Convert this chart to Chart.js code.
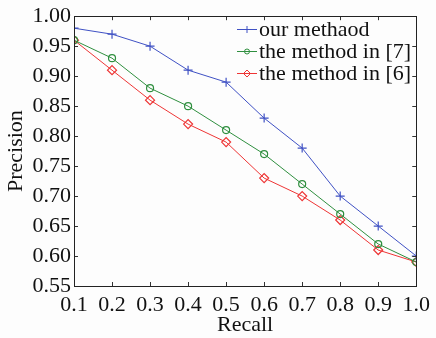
<!DOCTYPE html>
<html>
<head>
<meta charset="utf-8">
<script src="https://cdn.jsdelivr.net/npm/chart.js@4/dist/chart.umd.min.js"></script>
<style>
  html, body { margin: 0; padding: 0; background: #fdfdfd; }
  #wrap { width: 436px; height: 338px; }
</style>
</head>
<body>
<div id="wrap"><canvas id="c" width="436" height="338"></canvas></div>
<script>
// recall values on the x axis
const recall = [0.1, 0.2, 0.3, 0.4, 0.5, 0.6, 0.7, 0.8, 0.9, 1.0];
// precision for each method
const ourMethod = [0.98, 0.97, 0.95, 0.91, 0.89, 0.83, 0.78, 0.70, 0.65, 0.60];
const method7   = [0.96, 0.93, 0.88, 0.85, 0.81, 0.77, 0.72, 0.67, 0.62, 0.59];
const method6   = [0.96, 0.91, 0.86, 0.82, 0.79, 0.73, 0.70, 0.66, 0.61, 0.59];
const seriesNames = ['our methaod', 'the method in [7]', 'the method in [6]'];
const yTicks = [0.55, 0.60, 0.65, 0.70, 0.75, 0.80, 0.85, 0.90, 0.95, 1.00];

const FONT = 'Liberation Serif';
const ink = '#111';

const toPts = arr => arr.map((v, i) => ({ x: recall[i], y: v }));

// inward tick marks on all four sides + frame
const frameTicks = {
  id: 'frameTicks',
  afterDatasetsDraw(chart) {
    const { ctx, chartArea: a, scales: { x, y } } = chart;
    const len = 4;
    ctx.save();
    ctx.strokeStyle = '#333';
    ctx.lineWidth = 1;
    ctx.beginPath();
    recall.forEach(v => {
      const px = Math.round(x.getPixelForValue(v)) + 0.5;
      ctx.moveTo(px, a.bottom); ctx.lineTo(px, a.bottom - len);
      ctx.moveTo(px, a.top); ctx.lineTo(px, a.top + len);
    });
    yTicks.forEach(v => {
      const py = Math.round(y.getPixelForValue(v)) + 0.5;
      ctx.moveTo(a.left, py); ctx.lineTo(a.left + len, py);
      ctx.moveTo(a.right, py); ctx.lineTo(a.right - len, py);
    });
    ctx.stroke();
    ctx.strokeStyle = '#222';
    ctx.strokeRect(Math.round(a.left) + 0.5, Math.round(a.top) + 0.5,
      Math.round(a.right - a.left), Math.round(a.bottom - a.top));
    ctx.restore();
  }
};

// legend inside the plot, line + marker sample
const insideLegend = {
  id: 'insideLegend',
  afterDraw(chart) {
    const { ctx } = chart;
    const x0 = 237, x1 = 257, rowY = [29, 51, 73];
    ctx.save();
    ctx.font = `22px "${FONT}"`;
    ctx.textBaseline = 'middle';
    chart.data.datasets.forEach((ds, i) => {
      const yy = rowY[i];
      ctx.strokeStyle = ds.borderColor;
      ctx.fillStyle = 'rgba(0,0,0,0)';
      ctx.lineWidth = 1;
      ctx.beginPath(); ctx.moveTo(x0, yy + 0.5); ctx.lineTo(x1, yy + 0.5); ctx.stroke();
      Chart.helpers.drawPoint(ctx, {
        pointStyle: ds.pointStyle, radius: ds.pointRadius - 1, borderWidth: 1
      }, (x0 + x1) / 2, yy + 0.5);
      ctx.fillStyle = ink;
      ctx.fillText(ds.label, x1 + 2, yy + 1);
    });
    ctx.restore();
  }
};

function mkSet(label, data, color, style, r) {
  return {
    label, data: toPts(data),
    borderColor: color, backgroundColor: 'rgba(0,0,0,0)',
    pointBorderColor: color, pointBackgroundColor: 'rgba(0,0,0,0)',
    borderWidth: 1, pointBorderWidth: 1.2,
    pointStyle: style, pointRadius: r, tension: 0
  };
}

new Chart(document.getElementById('c'), {
  type: 'line',
  data: {
    datasets: [
      mkSet(seriesNames[0], ourMethod, '#3f51c4', 'cross', 4.5),
      mkSet(seriesNames[1], method7, '#2f8f3f', 'circle', 3.5),
      mkSet(seriesNames[2], method6, '#ee3535', 'rectRot', 4.5),
    ]
  },
  options: {
    responsive: false,
    animation: false,
    layout: { padding: { top: 13, right: 14, left: 0, bottom: 0 } },
    plugins: { legend: { display: false }, tooltip: { enabled: false } },
    scales: {
      x: {
        type: 'linear', min: 0.1, max: 1.0,
        afterBuildTicks: s => { s.ticks = recall.map(v => ({ value: v })); },
        afterFit: s => { s.height = 52; },
        grid: { display: false, drawTicks: false },
        border: { display: false },
        ticks: {
          color: ink, font: { family: FONT, size: 22 }, padding: 6, maxRotation: 0,
          callback: v => v.toFixed(1)
        },
        title: {
          display: true, text: 'Recall', color: ink,
          font: { family: FONT, size: 22 }, padding: { top: 0, bottom: 0 }
        }
      },
      y: {
        type: 'linear', min: 0.55, max: 1.0,
        afterBuildTicks: s => { s.ticks = yTicks.map(v => ({ value: v })); },
        afterFit: s => { s.width = 74; },
        grid: { display: false, drawTicks: false },
        border: { display: false },
        ticks: {
          color: ink, font: { family: FONT, size: 22 }, padding: 3,
          callback: v => v.toFixed(2)
        },
        title: {
          display: true, text: 'Precision', color: ink,
          font: { family: FONT, size: 22 }, padding: { top: 3, bottom: 0 }
        }
      }
    }
  },
  plugins: [frameTicks, insideLegend]
});
</script>
</body>
</html>
